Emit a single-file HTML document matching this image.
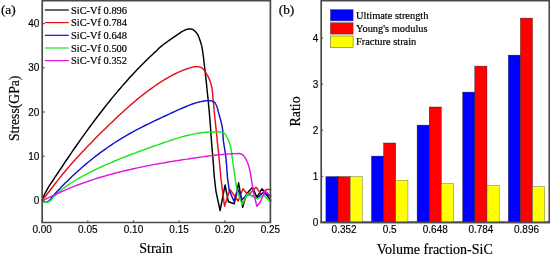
<!DOCTYPE html>
<html><head><meta charset="utf-8"><title>chart</title>
<style>
html,body{margin:0;padding:0;background:#fff;}
svg{display:block;will-change:transform}
.t{font-family:"Liberation Sans",sans-serif;font-size:10px;fill:#000;stroke:#000;stroke-width:0.15px}
.s{font-family:"Liberation Serif",serif;fill:#000;stroke:#000;stroke-width:0.2px}
</style></head><body>
<svg width="550" height="254" viewBox="0 0 550 254">
<rect width="550" height="254" fill="#fff"/>
<polyline points="42.2,200.0 44.7,194.0 47.2,189.3 49.7,185.2 52.2,181.5 54.7,177.7 57.2,174.0 59.7,170.2 62.2,166.5 64.7,162.7 67.2,159.0 69.7,155.3 72.2,151.7 74.7,148.0 77.2,144.5 79.7,140.9 82.2,137.4 84.7,133.9 87.2,130.4 89.7,127.0 92.2,123.6 94.7,120.3 97.2,117.0 99.7,113.7 102.2,110.5 104.7,107.3 107.2,104.1 109.7,101.0 112.2,97.9 114.7,94.9 117.2,91.9 119.7,89.0 122.2,86.1 124.7,83.2 127.2,80.4 129.7,77.6 132.2,74.9 134.7,72.2 137.2,69.5 139.7,67.0 142.2,64.4 144.7,61.9 147.2,59.5 149.7,57.1 152.2,54.7 154.7,52.4 156.0,51.2 156.6,50.7 157.1,50.2 157.7,49.6 158.2,49.0 158.8,48.4 159.4,47.8 160.1,47.2 160.8,46.6 162.0,45.7 163.2,44.7 164.6,43.6 166.1,42.6 167.6,41.5 169.1,40.4 170.6,39.4 172.0,38.4 173.4,37.4 174.9,36.4 176.4,35.3 177.9,34.3 179.3,33.3 180.7,32.4 182.0,31.6 183.2,30.9 183.9,30.6 184.5,30.3 185.1,30.0 185.7,29.7 186.3,29.5 186.9,29.4 187.4,29.2 188.0,29.1 188.5,29.0 189.0,28.9 189.6,28.9 190.1,28.9 190.6,28.9 191.1,28.9 191.5,29.0 192.0,29.1 192.4,29.3 192.9,29.5 193.3,29.8 193.7,30.1 194.1,30.5 194.5,30.8 194.8,31.2 195.2,31.5 195.5,31.8 195.9,32.1 196.2,32.4 196.5,32.8 196.7,33.1 197.0,33.5 197.3,33.9 197.6,34.4 198.1,35.4 198.7,36.7 199.3,38.2 199.8,39.7 200.3,41.3 200.8,42.8 201.2,44.3 201.6,45.6 201.8,46.5 202.0,47.3 202.1,48.1 202.3,48.8 202.4,49.6 202.5,50.4 202.6,51.2 202.7,52.0 202.9,53.0 203.0,54.0 203.1,54.9 203.3,55.9 203.4,57.0 203.6,58.2 203.7,59.5 203.9,61.0 204.4,65.5 205.1,71.2 205.8,77.7 206.6,84.8 207.3,92.2 208.1,99.3 208.7,106.1 209.3,112.0 209.6,115.9 209.9,119.6 210.2,123.2 210.5,126.7 210.7,130.1 210.9,133.4 211.1,136.7 211.4,140.0 211.6,143.0 211.9,146.0 212.1,149.0 212.4,152.0 212.6,154.9 212.9,157.7 213.1,160.4 213.3,163.0 213.4,164.9 213.6,166.7 213.7,168.5 213.8,170.2 213.9,171.9 214.1,173.6 214.2,175.3 214.3,177.0 216.0,191.6 220.1,210.5 225.1,185.0 228.4,201.8 234.3,203.7 238.6,182.8 242.7,207.3 246.6,193.8 252.5,187.2 256.9,197.4 262.0,188.7 266.3,194.5 270.7,200.3" fill="none" stroke="#000" stroke-width="1.45" stroke-linejoin="round" stroke-linecap="round"/>
<polyline points="42.2,200.0 44.7,197.3 47.2,194.0 49.7,190.8 52.2,187.5 54.7,184.3 57.2,181.1 59.7,177.9 62.2,174.8 64.7,171.8 67.2,168.8 69.7,165.9 72.2,163.1 74.7,160.2 77.2,157.5 79.7,154.8 82.2,152.1 84.7,149.4 87.2,146.8 89.7,144.2 92.2,141.7 94.7,139.1 97.2,136.6 99.7,134.1 102.2,131.6 104.7,129.2 107.2,126.7 109.7,124.3 112.2,121.9 114.7,119.5 117.2,117.1 119.7,114.8 122.2,112.5 124.7,110.2 127.2,108.0 129.7,105.8 132.2,103.6 134.7,101.5 137.2,99.4 139.7,97.3 142.2,95.3 144.7,93.4 147.2,91.5 149.7,89.6 152.2,87.8 154.7,86.0 157.2,84.3 159.7,82.7 162.2,81.1 164.7,79.5 167.2,78.1 169.7,76.7 172.2,75.3 174.7,74.0 177.2,72.8 179.7,71.7 182.2,70.6 184.7,69.6 187.2,68.7 189.7,67.9 190.2,67.7 190.8,67.6 191.4,67.4 192.0,67.3 192.7,67.1 193.3,67.0 194.0,66.9 194.6,66.8 195.2,66.7 195.6,66.7 196.1,66.6 196.5,66.6 196.9,66.6 197.3,66.6 197.7,66.6 198.1,66.6 198.5,66.7 198.9,66.8 199.4,66.9 199.8,67.0 200.3,67.1 200.7,67.3 201.1,67.5 201.6,67.7 202.0,68.0 202.6,68.5 203.3,69.2 203.9,69.9 204.6,70.8 205.2,71.7 205.8,72.6 206.4,73.5 207.0,74.5 207.6,75.7 208.3,76.9 208.8,78.1 209.4,79.4 209.9,80.8 210.4,82.2 210.9,83.6 211.3,85.1 211.7,87.0 212.1,88.9 212.3,91.0 212.6,93.1 212.8,95.2 212.9,97.3 213.1,99.3 213.3,101.2 213.4,102.6 213.6,103.9 213.7,105.2 213.8,106.4 213.9,107.7 214.0,109.0 214.1,110.4 214.3,112.0 214.6,114.9 214.9,118.2 215.3,121.8 215.7,125.6 216.1,129.4 216.5,133.2 216.9,136.7 217.2,140.0 217.4,142.4 217.7,144.6 217.9,146.8 218.1,148.9 218.4,151.0 218.6,153.2 218.8,155.3 219.0,157.5 219.2,159.9 219.5,162.3 219.7,164.7 219.9,167.2 220.1,169.6 220.4,172.1 220.6,174.6 220.8,177.0 222.6,191.6 224.5,206.2 229.9,189.4 238.2,201.0 243.0,188.7 248.1,195.2 256.1,187.2 261.2,194.5 266.3,189.4 270.7,189.4" fill="none" stroke="#e60f19" stroke-width="1.45" stroke-linejoin="round" stroke-linecap="round"/>
<polyline points="42.2,200.0 42.4,200.2 42.6,200.5 42.9,200.7 43.1,200.9 43.3,201.2 43.5,201.4 43.8,201.5 44.0,201.7 44.2,201.8 44.5,201.9 44.7,202.0 45.0,202.1 45.2,202.1 45.5,202.2 45.7,202.2 46.0,202.2 46.3,202.2 46.5,202.1 46.8,202.1 47.0,202.0 47.3,201.9 47.5,201.7 47.8,201.6 48.0,201.5 48.3,201.3 48.5,201.2 48.8,201.0 49.0,200.8 49.3,200.6 49.5,200.4 49.8,200.2 50.0,200.0 52.5,196.6 55.0,193.8 57.5,191.1 60.0,188.4 62.5,185.8 65.0,183.3 67.5,180.9 70.0,178.5 72.5,176.1 75.0,173.8 77.5,171.5 80.0,169.2 82.5,167.0 85.0,164.9 87.5,162.8 90.0,160.7 92.5,158.7 95.0,156.7 97.5,154.8 100.0,152.9 102.5,151.1 105.0,149.3 107.5,147.5 110.0,145.8 112.5,144.1 115.0,142.5 117.5,140.9 120.0,139.3 122.5,137.8 125.0,136.3 127.5,134.9 130.0,133.5 132.5,132.1 135.0,130.7 137.5,129.4 140.0,128.1 142.5,126.8 145.0,125.5 147.5,124.3 150.0,123.1 152.5,121.8 155.0,120.6 157.5,119.5 160.0,118.3 162.5,117.1 165.0,116.0 167.5,114.8 170.0,113.7 172.5,112.5 175.0,111.4 177.5,110.2 180.0,109.1 182.5,108.0 185.0,107.0 187.5,105.9 190.0,104.9 192.5,104.0 195.0,103.1 196.3,102.7 197.6,102.4 199.1,102.0 200.9,101.6 202.7,101.3 204.5,101.0 206.3,100.7 207.9,100.6 209.3,100.6 210.1,100.7 210.8,100.8 211.5,100.9 212.1,101.1 212.7,101.3 213.3,101.6 213.8,101.9 214.3,102.2 214.7,102.6 215.1,103.0 215.4,103.5 215.7,104.0 216.0,104.5 216.2,105.1 216.5,105.6 216.7,106.2 217.0,106.8 217.2,107.5 217.4,108.1 217.6,108.8 217.8,109.6 218.0,110.3 218.2,111.1 218.4,112.0 218.9,113.6 219.4,115.5 219.9,117.5 220.5,119.6 221.1,121.8 221.6,124.0 222.0,126.0 222.4,128.0 222.6,129.6 222.8,131.1 222.9,132.6 222.9,134.0 223.0,135.5 223.1,137.0 223.2,138.5 223.3,140.0 223.5,141.8 223.8,143.6 224.1,145.5 224.4,147.5 224.7,149.4 225.0,151.2 225.3,153.0 225.5,154.6 225.6,155.7 225.8,156.8 225.9,157.8 226.0,158.8 226.1,159.8 226.2,160.8 226.3,161.9 226.4,163.0 226.5,164.6 226.7,166.2 226.8,168.0 226.9,169.8 227.0,171.6 227.2,173.4 227.3,175.2 227.4,177.0 229.2,190.1 233.8,201.0 238.2,190.1 242.3,199.6 248.1,193.8 256.9,198.1 262.7,193.0 270.7,196.0" fill="none" stroke="#1212cc" stroke-width="1.45" stroke-linejoin="round" stroke-linecap="round"/>
<polyline points="42.2,200.0 42.4,200.2 42.6,200.5 42.8,200.7 43.1,201.0 43.3,201.2 43.5,201.4 43.7,201.6 44.0,201.8 44.3,201.9 44.5,202.1 44.8,202.2 45.1,202.2 45.4,202.3 45.7,202.4 46.0,202.4 46.3,202.4 46.6,202.4 46.9,202.3 47.2,202.3 47.5,202.2 47.8,202.1 48.1,202.0 48.4,201.8 48.7,201.7 49.0,201.6 49.3,201.4 49.6,201.2 49.9,201.0 50.1,200.8 50.4,200.6 50.7,200.4 51.0,200.2 53.5,197.1 56.0,194.7 58.5,192.4 61.0,190.3 63.5,188.3 66.0,186.5 68.5,184.7 71.0,183.0 73.5,181.5 76.0,180.0 78.5,178.5 81.0,177.1 83.5,175.7 86.0,174.4 88.5,173.1 91.0,171.8 93.5,170.5 96.0,169.3 98.5,168.1 101.0,167.0 103.5,165.8 106.0,164.7 108.5,163.6 111.0,162.6 113.5,161.5 116.0,160.5 118.5,159.4 121.0,158.4 123.5,157.4 126.0,156.5 128.5,155.5 131.0,154.5 133.5,153.6 136.0,152.7 138.5,151.7 141.0,150.8 143.5,149.9 146.0,149.0 148.5,148.1 151.0,147.2 153.5,146.3 156.0,145.4 158.5,144.6 161.0,143.7 163.5,142.8 166.0,141.9 168.5,141.1 171.0,140.2 173.5,139.4 176.0,138.6 178.5,137.9 181.0,137.1 183.5,136.4 186.0,135.8 188.5,135.2 191.0,134.6 193.5,134.1 196.0,133.6 198.5,133.2 201.0,132.8 203.5,132.5 206.0,132.3 208.5,132.1 210.3,132.1 211.7,132.0 213.3,131.9 215.1,131.9 217.0,131.8 218.8,131.8 220.6,131.9 222.1,132.2 223.4,132.7 224.1,133.2 224.7,133.7 225.3,134.4 225.8,135.0 226.2,135.8 226.6,136.5 227.0,137.3 227.4,138.1 227.9,139.0 228.3,139.9 228.7,140.8 229.1,141.8 229.4,142.8 229.8,143.8 230.1,144.9 230.4,146.1 230.8,147.8 231.1,149.7 231.5,151.6 231.7,153.7 232.0,155.8 232.3,157.8 232.5,159.9 232.8,161.9 233.1,163.8 233.4,165.7 233.6,167.6 233.9,169.5 234.2,171.4 234.5,173.2 234.7,175.1 235.0,177.0 237.2,191.6 242.3,204.7 247.4,193.8 257.6,198.9 264.1,195.2 270.7,202.5" fill="none" stroke="#1ee61e" stroke-width="1.45" stroke-linejoin="round" stroke-linecap="round"/>
<polyline points="42.2,200.0 44.7,199.6 47.2,198.3 49.7,197.1 52.2,195.9 54.7,194.8 57.2,193.6 59.7,192.5 62.2,191.4 64.7,190.3 67.2,189.2 69.7,188.2 72.2,187.2 74.7,186.2 77.2,185.2 79.7,184.3 82.2,183.4 84.7,182.5 87.2,181.6 89.7,180.7 92.2,179.9 94.7,179.1 97.2,178.3 99.7,177.5 102.2,176.8 104.7,176.1 107.2,175.3 109.7,174.6 112.2,174.0 114.7,173.3 117.2,172.6 119.7,172.0 122.2,171.4 124.7,170.8 127.2,170.2 129.7,169.6 132.2,169.0 134.7,168.5 137.2,167.9 139.7,167.4 142.2,166.9 144.7,166.4 147.2,165.9 149.7,165.4 152.2,164.9 154.7,164.4 157.2,164.0 159.7,163.5 162.2,163.1 164.7,162.7 167.2,162.2 169.7,161.8 172.2,161.4 174.7,161.0 177.2,160.6 179.7,160.2 182.2,159.8 184.7,159.4 187.2,159.1 189.7,158.7 192.2,158.3 194.7,158.0 197.2,157.6 199.7,157.2 202.2,156.9 204.7,156.5 207.2,156.2 209.7,155.9 212.2,155.6 214.7,155.3 217.2,155.0 219.7,154.7 222.2,154.5 224.7,154.2 227.2,154.0 229.7,153.9 232.2,153.7 234.7,153.6 237.2,153.5 238.6,153.4 239.0,153.5 239.4,153.5 239.8,153.6 240.1,153.7 240.5,153.8 240.8,153.9 241.2,154.1 241.5,154.2 241.8,154.3 242.1,154.5 242.3,154.7 242.6,154.8 242.8,155.0 243.1,155.3 243.3,155.5 243.6,155.8 244.1,156.4 244.6,157.1 245.1,157.9 245.6,158.7 246.1,159.6 246.6,160.5 247.0,161.4 247.4,162.3 247.8,163.2 248.1,164.0 248.4,164.9 248.6,165.8 248.9,166.7 249.1,167.6 249.4,168.5 249.6,169.4 249.8,170.3 250.0,171.3 250.2,172.2 250.4,173.2 250.5,174.1 250.7,175.1 250.8,176.0 251.0,177.0 253.9,194.5 256.9,206.2 260.5,201.8 264.9,190.8 270.7,196.0" fill="none" stroke="#e114e1" stroke-width="1.45" stroke-linejoin="round" stroke-linecap="round"/>
<path d="M42.2,222.5 V0.65 H270.4 V222.5 Z" fill="none" stroke="#4a4a4a" stroke-width="1.7"/>
<line x1="42.2" x2="44.6" y1="200.4" y2="200.4" stroke="#4a4a4a" stroke-width="1.2"/>
<text x="39.4" y="203.9" text-anchor="end" class="t">0</text>
<line x1="42.2" x2="44.6" y1="156.2" y2="156.2" stroke="#4a4a4a" stroke-width="1.2"/>
<text x="39.4" y="159.7" text-anchor="end" class="t">10</text>
<line x1="42.2" x2="44.6" y1="112.0" y2="112.0" stroke="#4a4a4a" stroke-width="1.2"/>
<text x="39.4" y="115.5" text-anchor="end" class="t">20</text>
<line x1="42.2" x2="44.6" y1="67.8" y2="67.8" stroke="#4a4a4a" stroke-width="1.2"/>
<text x="39.4" y="71.3" text-anchor="end" class="t">30</text>
<line x1="42.2" x2="44.6" y1="23.6" y2="23.6" stroke="#4a4a4a" stroke-width="1.2"/>
<text x="39.4" y="27.1" text-anchor="end" class="t">40</text>
<line y1="222.5" y2="220.4" x1="42.2" x2="42.2" stroke="#4a4a4a" stroke-width="1.2"/>
<text x="42.2" y="233.4" text-anchor="middle" class="t">0.00</text>
<line y1="222.5" y2="220.4" x1="87.8" x2="87.8" stroke="#4a4a4a" stroke-width="1.2"/>
<text x="87.8" y="233.4" text-anchor="middle" class="t">0.05</text>
<line y1="222.5" y2="220.4" x1="133.5" x2="133.5" stroke="#4a4a4a" stroke-width="1.2"/>
<text x="133.5" y="233.4" text-anchor="middle" class="t">0.10</text>
<line y1="222.5" y2="220.4" x1="179.1" x2="179.1" stroke="#4a4a4a" stroke-width="1.2"/>
<text x="179.1" y="233.4" text-anchor="middle" class="t">0.15</text>
<line y1="222.5" y2="220.4" x1="224.8" x2="224.8" stroke="#4a4a4a" stroke-width="1.2"/>
<text x="224.8" y="233.4" text-anchor="middle" class="t">0.20</text>
<line y1="222.5" y2="220.4" x1="270.4" x2="270.4" stroke="#4a4a4a" stroke-width="1.2"/>
<text x="270.4" y="233.4" text-anchor="middle" class="t">0.25</text>
<line x1="44.8" x2="68.8" y1="10.0" y2="10.0" stroke="#000" stroke-width="1.2"/>
<text x="71" y="13.6" class="s" style="font-size:10.4px">SiC-Vf 0.896</text>
<line x1="44.8" x2="68.8" y1="22.6" y2="22.6" stroke="#e60f19" stroke-width="1.2"/>
<text x="71" y="26.2" class="s" style="font-size:10.4px">SiC-Vf 0.784</text>
<line x1="44.8" x2="68.8" y1="35.3" y2="35.3" stroke="#1212cc" stroke-width="1.2"/>
<text x="71" y="38.9" class="s" style="font-size:10.4px">SiC-Vf 0.648</text>
<line x1="44.8" x2="68.8" y1="48.0" y2="48.0" stroke="#1ee61e" stroke-width="1.2"/>
<text x="71" y="51.6" class="s" style="font-size:10.4px">SiC-Vf 0.500</text>
<line x1="44.8" x2="68.8" y1="60.6" y2="60.6" stroke="#e114e1" stroke-width="1.2"/>
<text x="71" y="64.2" class="s" style="font-size:10.4px">SiC-Vf 0.352</text>
<text x="0.9" y="13.6" class="s" style="font-size:13.4px">(a)</text>
<text x="156" y="252.7" text-anchor="middle" class="s" style="font-size:14px">Strain</text>
<text transform="translate(19,108.3) rotate(-90)" text-anchor="middle" class="s" style="font-size:13.7px">Stress(GPa)</text>
<path d="M321.2,222.4 V0.65 H549.3 V222.4 Z" fill="none" stroke="#4a4a4a" stroke-width="1.7"/>
<rect x="325.9" y="176.6" width="12.15" height="45.9" fill="#0000ff" stroke="#222" stroke-width="0.4"/>
<rect x="338.0" y="176.6" width="12.15" height="45.9" fill="#ff0000" stroke="#222" stroke-width="0.4"/>
<rect x="350.2" y="176.6" width="12.15" height="45.9" fill="#ffff00" stroke="#555" stroke-width="0.4"/>
<line y1="222.6" y2="220.8" x1="344.1" x2="344.1" stroke="#4a4a4a" stroke-width="1"/>
<text x="344.1" y="233.4" text-anchor="middle" class="t">0.352</text>
<rect x="371.5" y="156.1" width="12.15" height="66.4" fill="#0000ff" stroke="#222" stroke-width="0.4"/>
<rect x="383.6" y="143.0" width="12.15" height="79.5" fill="#ff0000" stroke="#222" stroke-width="0.4"/>
<rect x="395.8" y="180.2" width="12.15" height="42.3" fill="#ffff00" stroke="#555" stroke-width="0.4"/>
<line y1="222.6" y2="220.8" x1="389.7" x2="389.7" stroke="#4a4a4a" stroke-width="1"/>
<text x="389.7" y="233.4" text-anchor="middle" class="t">0.5</text>
<rect x="417.1" y="125.1" width="12.15" height="97.4" fill="#0000ff" stroke="#222" stroke-width="0.4"/>
<rect x="429.2" y="107.0" width="12.15" height="115.5" fill="#ff0000" stroke="#222" stroke-width="0.4"/>
<rect x="441.4" y="183.5" width="12.15" height="39.0" fill="#ffff00" stroke="#555" stroke-width="0.4"/>
<line y1="222.6" y2="220.8" x1="435.3" x2="435.3" stroke="#4a4a4a" stroke-width="1"/>
<text x="435.3" y="233.4" text-anchor="middle" class="t">0.648</text>
<rect x="462.7" y="92.1" width="12.15" height="130.4" fill="#0000ff" stroke="#222" stroke-width="0.4"/>
<rect x="474.8" y="66.1" width="12.15" height="156.4" fill="#ff0000" stroke="#222" stroke-width="0.4"/>
<rect x="487.0" y="185.5" width="12.15" height="37.0" fill="#ffff00" stroke="#555" stroke-width="0.4"/>
<line y1="222.6" y2="220.8" x1="480.9" x2="480.9" stroke="#4a4a4a" stroke-width="1"/>
<text x="480.9" y="233.4" text-anchor="middle" class="t">0.784</text>
<rect x="508.3" y="55.1" width="12.15" height="167.4" fill="#0000ff" stroke="#222" stroke-width="0.4"/>
<rect x="520.4" y="18.1" width="12.15" height="204.4" fill="#ff0000" stroke="#222" stroke-width="0.4"/>
<rect x="532.6" y="186.5" width="12.15" height="36.0" fill="#ffff00" stroke="#555" stroke-width="0.4"/>
<line y1="222.6" y2="220.8" x1="526.5" x2="526.5" stroke="#4a4a4a" stroke-width="1"/>
<text x="526.5" y="233.4" text-anchor="middle" class="t">0.896</text>
<line x1="321.2" x2="323.2" y1="222.5" y2="222.5" stroke="#4a4a4a" stroke-width="1"/>
<text x="318.4" y="226.0" text-anchor="end" class="t">0</text>
<line x1="321.2" x2="323.2" y1="176.4" y2="176.4" stroke="#4a4a4a" stroke-width="1"/>
<text x="318.4" y="179.9" text-anchor="end" class="t">1</text>
<line x1="321.2" x2="323.2" y1="130.3" y2="130.3" stroke="#4a4a4a" stroke-width="1"/>
<text x="318.4" y="133.8" text-anchor="end" class="t">2</text>
<line x1="321.2" x2="323.2" y1="84.2" y2="84.2" stroke="#4a4a4a" stroke-width="1"/>
<text x="318.4" y="87.7" text-anchor="end" class="t">3</text>
<line x1="321.2" x2="323.2" y1="38.1" y2="38.1" stroke="#4a4a4a" stroke-width="1"/>
<text x="318.4" y="41.6" text-anchor="end" class="t">4</text>
<line x1="320.4" x2="550" y1="222.4" y2="222.4" stroke="#4a4a4a" stroke-width="1.7"/>
<rect x="330.4" y="9.6" width="22.7" height="11.3" fill="#0000ff" stroke="#444" stroke-width="0.5"/>
<text x="356" y="18.9" class="s" style="font-size:10.4px">Ultimate strength</text>
<rect x="330.4" y="22.8" width="22.7" height="11.3" fill="#ff0000" stroke="#444" stroke-width="0.5"/>
<text x="356" y="32.1" class="s" style="font-size:10.4px">Young&#39;s modulus</text>
<rect x="330.4" y="36.0" width="22.7" height="11.3" fill="#ffff00" stroke="#444" stroke-width="0.5"/>
<text x="356" y="45.3" class="s" style="font-size:10.4px">Fracture strain</text>
<text x="278.7" y="14" class="s" style="font-size:13.4px">(b)</text>
<text x="434.8" y="253.8" text-anchor="middle" class="s" style="font-size:14px">Volume fraction-SiC</text>
<text transform="translate(300.2,111.4) rotate(-90)" text-anchor="middle" class="s" style="font-size:14px">Ratio</text>
</svg>
</body></html>
